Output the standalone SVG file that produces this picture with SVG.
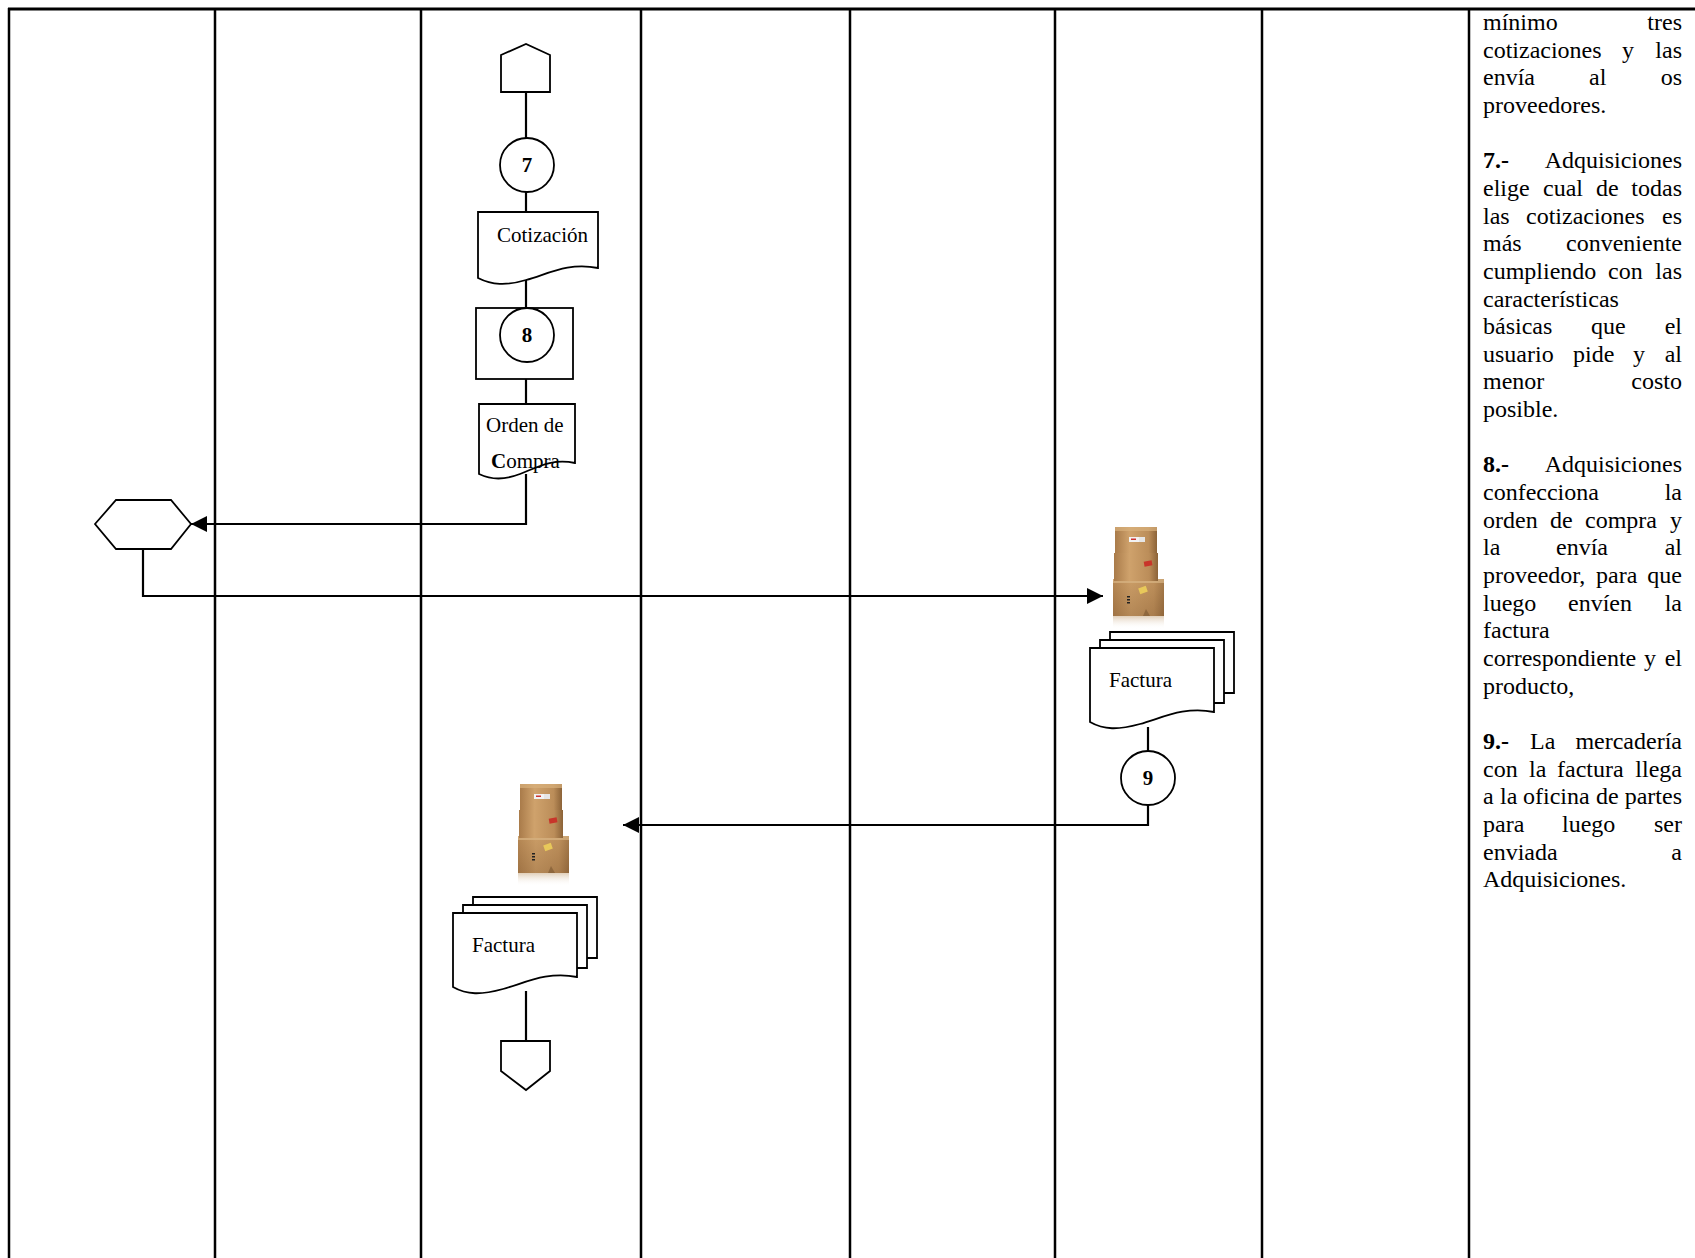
<svg xmlns="http://www.w3.org/2000/svg" width="1695" height="1258" viewBox="0 0 1695 1258">
  <style>
    .lane { stroke: #000; stroke-width: 2.5; fill: none; }
    .shape { stroke: #000; stroke-width: 1.8; fill: #fff; }
    .sheet { stroke: #000; stroke-width: 1.8; fill: none; }
    .conn { stroke: #000; stroke-width: 2.2; fill: none; }
    .lbl { font-family: "Liberation Serif", "Times New Roman", serif; font-size: 21px; fill: #000; }
    .num { font-family: "Liberation Serif", "Times New Roman", serif; font-size: 21px; font-weight: bold; fill: #000; text-anchor: middle; }
    .desc { font-family: "Liberation Serif", "Times New Roman", serif; font-size: 24px; fill: #000; }
    .desc .b { font-weight: bold; }
    .e { text-anchor: end; }
  </style>
  <defs>
    <marker id="arrow" markerUnits="userSpaceOnUse" markerWidth="16" markerHeight="16" refX="16" refY="8" orient="auto">
      <path d="M0,0 L16,8 L0,16 Z" fill="#000"/>
    </marker>
    <linearGradient id="cardboard" x1="0" y1="0" x2="1" y2="0">
      <stop offset="0" stop-color="#a97b4a"/>
      <stop offset="0.35" stop-color="#cfa26c"/>
      <stop offset="0.8" stop-color="#bb8d59"/>
      <stop offset="1" stop-color="#8c6338"/>
    </linearGradient>
    <linearGradient id="cardboardDark" x1="0" y1="0" x2="0" y2="1">
      <stop offset="0" stop-color="#c49660"/>
      <stop offset="1" stop-color="#93683c"/>
    </linearGradient>
    <linearGradient id="mirror" x1="0" y1="0" x2="0" y2="1">
      <stop offset="0" stop-color="#c8a880" stop-opacity="0.55"/>
      <stop offset="1" stop-color="#ffffff" stop-opacity="0"/>
    </linearGradient>
    <!-- stack of three cardboard boxes, 52 x 103 -->
    <g id="boxStack">
      <rect x="0" y="90" width="51" height="13" fill="url(#mirror)"/>
      <rect x="0" y="53" width="51" height="37" fill="url(#cardboard)"/>
      <rect x="0" y="53" width="51" height="37" fill="url(#cardboardDark)" opacity="0.45"/>
      <rect x="0" y="53" width="51" height="4" fill="#d9b585" opacity="0.7"/>
      <rect x="26" y="61" width="8" height="6" fill="#e8c85a" transform="rotate(-20 30 64)"/>
      <rect x="14" y="70" width="3" height="1.5" fill="#222"/>
      <rect x="14" y="73" width="3" height="1.5" fill="#222"/>
      <rect x="14" y="76" width="3" height="1.5" fill="#222"/>
      <path d="M30,90 L33,83 L37,90 Z" fill="#7a5630" opacity="0.6"/>
      <rect x="1" y="27" width="44" height="28" fill="url(#cardboard)"/>
      <rect x="31" y="35" width="8" height="5" fill="#c8352a" transform="rotate(-10 35 37)"/>
      <rect x="2" y="1" width="42" height="26" fill="url(#cardboard)"/>
      <rect x="2" y="1" width="42" height="4" fill="#d8b07c" opacity="0.7"/>
      <rect x="16" y="11" width="10" height="5" fill="#f2f2f2"/>
      <rect x="26" y="11" width="6" height="5" fill="#e6e6e6"/>
      <rect x="18" y="12.5" width="5" height="1.5" fill="#c33"/>
    </g>
  </defs>

  <!-- swimlane frame -->
  <g id="lanes">
    <line class="lane" x1="8" y1="9" x2="1695" y2="9" style="stroke-width:3"/>
    <line class="lane" x1="9" y1="8" x2="9" y2="1258"/>
    <line class="lane" x1="215" y1="8" x2="215" y2="1258"/>
    <line class="lane" x1="421" y1="8" x2="421" y2="1258"/>
    <line class="lane" x1="641" y1="8" x2="641" y2="1258"/>
    <line class="lane" x1="850" y1="8" x2="850" y2="1258"/>
    <line class="lane" x1="1055" y1="8" x2="1055" y2="1258"/>
    <line class="lane" x1="1262" y1="8" x2="1262" y2="1258"/>
    <line class="lane" x1="1469" y1="8" x2="1469" y2="1258"/>
  </g>

  <!-- connectors -->
  <g id="connectors">
    <line class="conn" x1="526" y1="92" x2="526" y2="139"/>
    <line class="conn" x1="526" y1="188" x2="526" y2="212"/>
    <line class="conn" x1="526" y1="278" x2="526" y2="308"/>
    <line class="conn" x1="526" y1="357" x2="526" y2="404"/>
    <polyline class="conn" points="526,474 526,524 191,524" marker-end="url(#arrow)"/>
    <polyline class="conn" points="143,549 143,596 1103,596" marker-end="url(#arrow)"/>
    <line class="conn" x1="1148" y1="727" x2="1148" y2="751"/>
    <polyline class="conn" points="1148,800 1148,825 623,825" marker-end="url(#arrow)"/>
    <line class="conn" x1="526" y1="991" x2="526" y2="1041"/>
  </g>

  <!-- off-page connector (in) -->
  <g id="offpage-in">
    <polygon class="shape" points="501,55 526,44 550,55 550,92 501,92"/>
  </g>

  <!-- step 7 -->
  <g id="step7">
    <circle class="shape" cx="527" cy="165" r="27"/>
    <text class="num" x="527" y="172">7</text>
  </g>

  <g id="doc-cotizacion">
    <path class="shape" d="M478,212 H598 V268 C568,262 548,274 526,280 C506,286 492,285 478,278 Z"/>
    <text class="lbl" x="497" y="242">Cotización</text>
  </g>

  <!-- step 8 -->
  <g id="step8">
    <rect class="shape" x="476" y="308" width="97" height="71"/>
    <circle class="shape" cx="527" cy="335" r="27"/>
    <text class="num" x="527" y="342">8</text>
  </g>

  <g id="doc-orden">
    <path class="shape" d="M479,404 H575 V463 C551,458 536,468 520,474 C504,480 492,480 479,474 Z"/>
    <text class="lbl" x="486" y="432">Orden de</text>
    <text class="lbl" x="491" y="468"><tspan font-weight="bold">C</tspan>ompra</text>
  </g>

  <!-- supplier (hexagon) -->
  <g id="proveedor">
    <polygon class="shape" points="95,524 116,500 171,500 191,524 171,549 116,549"/>
  </g>

  <!-- goods and invoice received -->
  <g id="mercaderia-1">
    <use href="#boxStack" x="1113" y="526"/>
  </g>
  <g id="doc-factura-1">
    <path class="sheet" d="M1110,640 V632 H1234 V693 H1224"/>
    <path class="sheet" d="M1100,648 V640 H1224 V703 H1214"/>
    <path class="shape" d="M1090,648 H1214 V712 C1184,706 1162,718 1140,724 C1118,730 1104,730 1090,722 Z"/>
    <text class="lbl" x="1109" y="687">Factura</text>
  </g>

  <!-- step 9 -->
  <g id="step9">
    <circle class="shape" cx="1148" cy="778" r="27"/>
    <text class="num" x="1148" y="785">9</text>
  </g>

  <g id="mercaderia-2">
    <use href="#boxStack" x="518" y="783"/>
  </g>
  <g id="doc-factura-2">
    <path class="sheet" d="M473,905 V897 H597 V958 H587"/>
    <path class="sheet" d="M463,913 V905 H587 V968 H577"/>
    <path class="shape" d="M453,913 H577 V977 C547,971 525,983 503,989 C481,995 467,995 453,987 Z"/>
    <text class="lbl" x="472" y="952">Factura</text>
  </g>

  <!-- off-page connector (out) -->
  <g id="offpage-out">
    <polygon class="shape" points="501,1041 550,1041 550,1071 526,1090 501,1071"/>
  </g>

  <!-- procedure description column -->
  <g id="descripcion" class="desc" transform="translate(0,2)">
    <text x="1483" y="28">mínimo</text><text class="e" x="1682" y="28">tres</text>
    <text x="1483" y="56">cotizaciones</text><text x="1622" y="56">y</text><text class="e" x="1682" y="56">las</text>
    <text x="1483" y="83">envía</text><text x="1589" y="83">al</text><text class="e" x="1682" y="83">os</text>
    <text x="1483" y="111">proveedores.</text>

    <text x="1483" y="166"><tspan class="b">7.-</tspan></text><text class="e" x="1682" y="166">Adquisiciones</text>
    <text x="1483" y="194">elige</text><text x="1543" y="194">cual</text><text x="1596" y="194">de</text><text class="e" x="1682" y="194">todas</text>
    <text x="1483" y="222">las</text><text x="1526" y="222">cotizaciones</text><text class="e" x="1682" y="222">es</text>
    <text x="1483" y="249">más</text><text class="e" x="1682" y="249">conveniente</text>
    <text x="1483" y="277">cumpliendo</text><text x="1608" y="277">con</text><text class="e" x="1682" y="277">las</text>
    <text x="1483" y="305">características</text>
    <text x="1483" y="332">básicas</text><text x="1591" y="332">que</text><text class="e" x="1682" y="332">el</text>
    <text x="1483" y="360">usuario</text><text x="1573" y="360">pide</text><text x="1633" y="360">y</text><text class="e" x="1682" y="360">al</text>
    <text x="1483" y="387">menor</text><text class="e" x="1682" y="387">costo</text>
    <text x="1483" y="415">posible.</text>

    <text x="1483" y="470"><tspan class="b">8.-</tspan></text><text class="e" x="1682" y="470">Adquisiciones</text>
    <text x="1483" y="498">confecciona</text><text class="e" x="1682" y="498">la</text>
    <text x="1483" y="526">orden</text><text x="1550" y="526">de</text><text x="1585" y="526">compra</text><text class="e" x="1682" y="526">y</text>
    <text x="1483" y="553">la</text><text x="1556" y="553">envía</text><text class="e" x="1682" y="553">al</text>
    <text x="1483" y="581">proveedor,</text><text x="1596" y="581">para</text><text class="e" x="1682" y="581">que</text>
    <text x="1483" y="609">luego</text><text x="1568" y="609">envíen</text><text class="e" x="1682" y="609">la</text>
    <text x="1483" y="636">factura</text>
    <text x="1483" y="664">correspondiente</text><text x="1644" y="664">y</text><text class="e" x="1682" y="664">el</text>
    <text x="1483" y="692">producto,</text>

    <text x="1483" y="747"><tspan class="b">9.-</tspan></text><text x="1530" y="747">La</text><text class="e" x="1682" y="747">mercadería</text>
    <text x="1483" y="775">con</text><text x="1529" y="775">la</text><text x="1557" y="775">factura</text><text class="e" x="1682" y="775">llega</text>
    <text x="1483" y="802">a</text><text x="1500" y="802">la</text><text x="1523" y="802">oficina</text><text x="1596" y="802">de</text><text class="e" x="1682" y="802">partes</text>
    <text x="1483" y="830">para</text><text x="1562" y="830">luego</text><text class="e" x="1682" y="830">ser</text>
    <text x="1483" y="858">enviada</text><text class="e" x="1682" y="858">a</text>
    <text x="1483" y="885">Adquisiciones.</text>
  </g>
</svg>
